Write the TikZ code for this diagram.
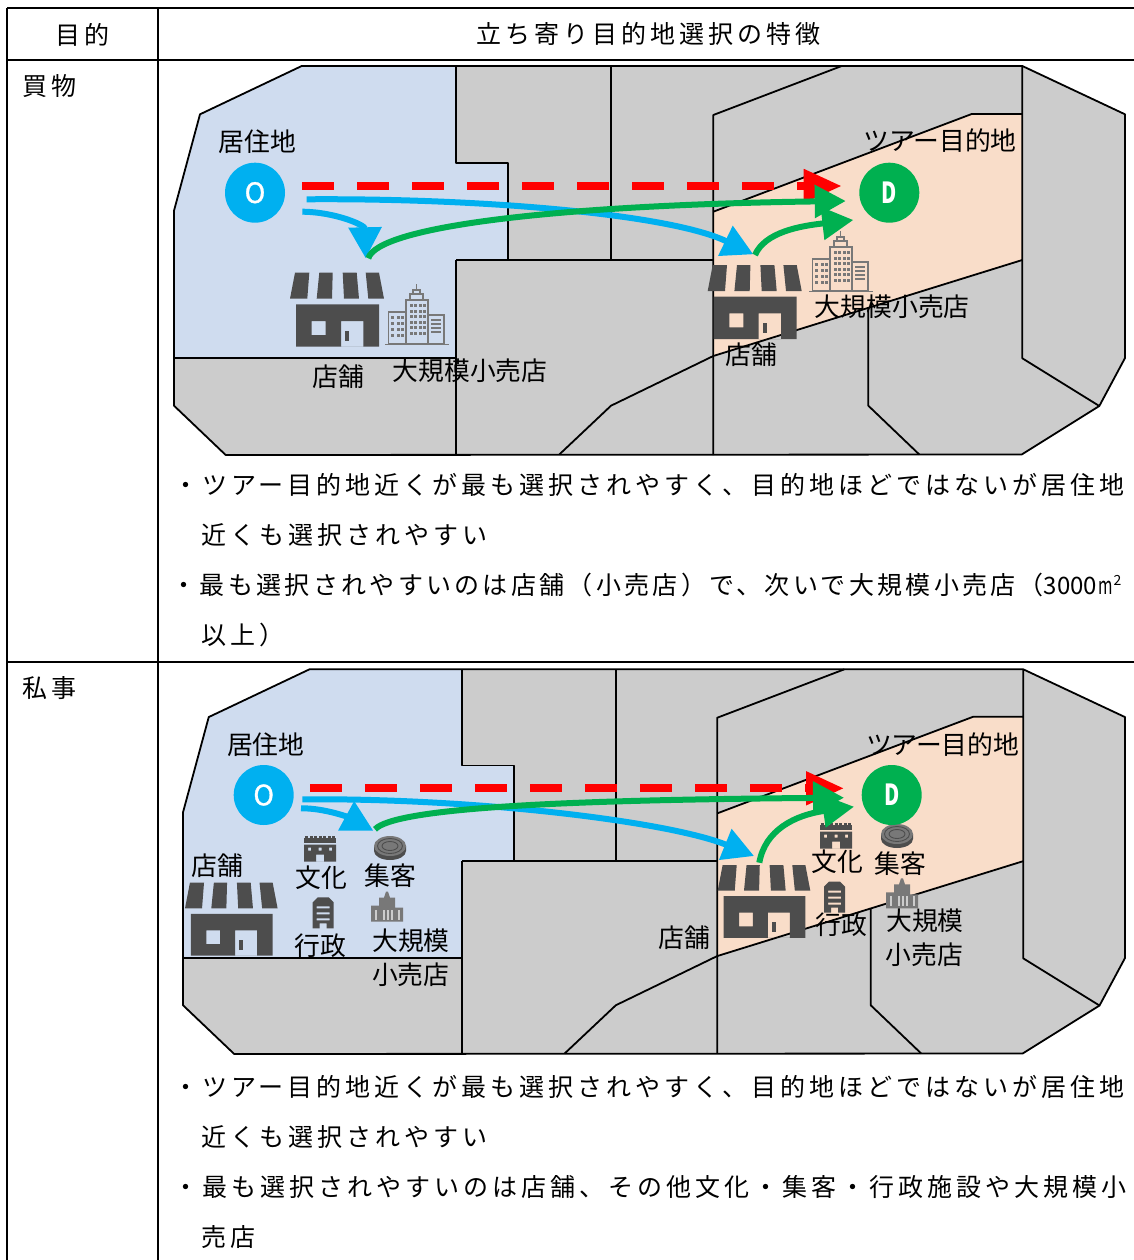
\documentclass[tikz,border=0pt]{standalone}
\usepackage{fontspec}
\setmainfont{Noto Sans CJK JP}
\newfontfamily\bodyfont[LetterSpace=16]{Noto Sans CJK JP}
\newfontfamily\tightfont[LetterSpace=13.2]{Noto Sans CJK JP}
\newfontfamily\markfont[FakeBold=1.2]{Noto Sans CJK JP}
\usetikzlibrary{arrows.meta}
\definecolor{homeblue}{RGB}{207,220,239}
\definecolor{destpeach}{RGB}{249,221,201}
\definecolor{zonegray}{RGB}{204,204,204}
\definecolor{tripblue}{RGB}{0,176,240}
\definecolor{tripgreen}{RGB}{0,176,80}
\definecolor{icondark}{RGB}{77,77,77}
\definecolor{iconmid}{RGB}{120,120,120}

\tikzset{
  shopicon/.pic={
    \fill[icondark] (5,0)--(19.3,0)--(17.3,26)--(0,26)--cycle;
    \fill[icondark] (29.3,0)--(42.7,0)--(42,26)--(26.7,26)--cycle;
    \fill[icondark] (52.7,0)--(66.7,0)--(69,26)--(54,26)--cycle;
    \fill[icondark] (75.7,0)--(89,0)--(94,26)--(78.3,26)--cycle;
    \fill[icondark,even odd rule] (6,31.7) rectangle (89,74)
      (21.7,48.3) rectangle (35.7,62.3) (51,48.3) rectangle (73.3,74);
    \fill[icondark] (55.3,58) rectangle (59.3,68);
  },
  buildingicon/.pic={
    \draw[iconmid,line width=1.6pt] (0,60.5)--(64,60.5);
    \draw[iconmid,line width=1.4pt] (3.3,60) rectangle (21,28) (21,60) rectangle (43,16)
      (43,60) rectangle (59,31) (25,16) rectangle (38,10) (28,10) rectangle (35,6)
      (31.5,6)--(31.5,0);
    \foreach \x in {6,11.5,16}
      \foreach \y in {32,38,44,50}
        \fill[iconmid] (\x,\y) rectangle ++(3.4,3.4);
    \foreach \x in {24.5,29,33.5,38}
      \foreach \y in {20,25.5,31,36.5,42,47.5}
        \fill[iconmid] (\x,\y) rectangle ++(3,3.2);
    \foreach \y in {36,40,44,48}
      \draw[iconmid,line width=1.2pt] (46,\y)--(56,\y);
  },
  towericon/.pic={
    \fill[iconmid] (0,30)--(0,14)--(8,14)--(8,6)--(13,6)--(15,0)--(17,0)--(19,6)--(24,6)--(24,16)--(32,16)--(32,30)--cycle;
    \foreach \x in {4,12,16,20,27}
      \fill[zonegray] (\x,18) rectangle ++(1.5,10);
  },
  cultureicon/.pic={
    \fill[icondark] (0,2) rectangle (32,7);
    \foreach \x in {1,5.5,10,14.5,19,23.5,28}
      \fill[icondark] (\x,0) rectangle ++(3,2.5);
    \fill[icondark,even odd rule] (0,9) rectangle (32,26) (12,19) rectangle (20,26)
      (4,12) rectangle (7,15) (14.5,12) rectangle (17.5,15) (25,12) rectangle (28,15);
  },
  stadiumicon/.pic={
    \fill[icondark] (0,10) -- (0,15) arc[start angle=180,end angle=0,x radius=16,y radius=9] -- (32,10) -- cycle;
    \fill[iconmid] (16,10) ellipse[x radius=16,y radius=10];
    \draw[icondark,line width=.9pt] (16,10) ellipse[x radius=12.5,y radius=7.5];
    \draw[icondark,line width=.9pt] (16,10) ellipse[x radius=8,y radius=4.5];
  },
  officeicon/.pic={
    \fill[icondark,even odd rule] (0,5)--(5,0)--(16,0)--(21,5)--(21,31)--(14,31)--(14,26)--(7,26)--(7,31)--(0,31)--cycle
      (4,9) rectangle (17,11) (4,15) rectangle (17,17) (4,21) rectangle (17,23);
  }
}

% one block map, in the coordinates of the upper row
\newcommand{\blockmap}{
  \fill[zonegray] (301.7,66)--(1022.3,66)--(1125,114.3)--(1125,358)--(1099.3,406)--(1021.7,454.5)--(225.7,455)--(174,405.7)--(174,210.7)--(200,114.3)--cycle;
  \fill[homeblue] (301.7,66)--(456,66)--(456,163.3)--(508.3,163.3)--(508.3,260)--(456,260)--(456,357.7)--(174,357.7)--(174,210.7)--(200,114.3)--cycle;
  \fill[destpeach] (713.3,211.7)--(971.7,114)--(1022.3,114)--(1022.3,260)--(713.3,356)--cycle;
  \draw[mapline] (301.7,66)--(1022.3,66)--(1125,114.3)--(1125,358)--(1099.3,406)--(1021.7,454.5)--(225.7,455)--(174,405.7)--(174,210.7)--(200,114.3)--cycle;
  \draw[mapline] (456,66)--(456,163.3)--(508.3,163.3)--(508.3,260);
  \draw[mapline] (174,357.7)--(456,357.7) (456,260)--(456,455);
  \draw[mapline] (611,66)--(611,260) (456,260)--(713.3,260);
  \draw[mapline] (841.7,66)--(713.3,115)--(713.3,455);
  \draw[mapline] (713.3,211.7)--(971.7,114)--(1022.3,114) (1022.3,66)--(1022.3,358.3)--(1099.3,406);
  \draw[mapline] (1022.3,260)--(713.3,356)--(611,405.7)--(559.3,454.5);
  \draw[mapline] (868.3,308)--(868.3,405.7)--(919.3,454.5);
}

\begin{document}
\begin{tikzpicture}[x=1pt,y=-1pt,
    mapline/.style={draw=black,line width=1.8pt,line join=round},
    gridline/.style={draw=black,line width=1.8pt},
    label/.style={inner sep=0pt,text height=22.7pt,text depth=3.1pt,font=\fontsize{25.8}{25.8}\selectfont},
    headline/.style={inner sep=0pt,text height=22pt,text depth=3pt,font=\bodyfont\fontsize{25}{25}\selectfont},
    bodyline/.style={headline,anchor=west},
    homestop/.style={circle,fill=tripblue,minimum size=60pt,inner sep=0pt,text=white},
    deststop/.style={circle,fill=tripgreen,minimum size=60pt,inner sep=0pt,text=white},
    direct/.style={draw=red,line width=8pt,dash pattern=on 31.7pt off 23.3pt,-{Triangle[length=38pt,width=32pt]}},
    bluetrip/.style={draw=tripblue,line width=6pt,-{Triangle[length=31pt,width=32pt]},tripblue},
    greentrip/.style={draw=tripgreen,line width=6pt,-{Triangle[length=31pt,width=32pt]},tripgreen}]
  \useasboundingbox (0,0) rectangle (1134,1260);

  % table
  \draw[gridline] (7,8)--(1134,8) (7,60)--(1134,60) (7,661.7)--(1134,661.7);
  \draw[gridline] (7,8)--(7,1260) (158,8)--(158,1260);
  \node[headline] (headA) at (82,35) {目的};
  \node[headline] (headB) at (648.5,34.5) {立ち寄り目的地選択の特徴};
  \node[bodyline] (shopping) at (22,86.5) {買物};
  \node[bodyline] (private) at (22,687.5) {私事};

  % upper map
  \blockmap
  \pic at (290,272.7) {shopicon};
  \pic at (385,284) {buildingicon};
  \pic at (707.7,265) {shopicon};
  \pic at (809,231) {buildingicon};
  \node[homestop] (O) at (255,192.7) {\markfont\fontsize{28}{28}\selectfont O};
  \node[deststop] (D) at (889.3,192.7) {\fontsize{29}{29}\selectfont\bfseries\scalebox{.72}[1]{D}};

  \coordinate (redA) at (302.3,186);       \coordinate (redB) at (841.7,186);
  \coordinate (blueA) at (306.7,199.3);    \coordinate (blueB) at (753.3,254.3);
  \coordinate (shortA) at (302.3,211.7);   \coordinate (shortB) at (365.7,258.3);
  \coordinate (greenA) at (368.3,258.3);   \coordinate (greenB) at (845.7,201);
  \coordinate (nextA) at (755,255);        \coordinate (nextB) at (853.3,220);
  \draw[direct] (redA) -- (redB);
  \draw[bluetrip] (blueA) .. controls (480,198) and (670,214) .. (blueB);
  \draw[bluetrip] (shortA) .. controls (335,212) and (365,225) .. (shortB);
  \draw[greentrip] (greenA) .. controls (378,226) and (560,205) .. (greenB);
  \draw[greentrip] (nextA) .. controls (765,232) and (800,226) .. (nextB);

  \node[label] (homeA) at (257.3,141.7) {居住地};
  \node[label] (shopA) at (338.3,376.7) {店舗};
  \node[label] (largeA) at (470,370.7) {大規模小売店};
  \node[label] (destA) at (940,141) {ツアー目的地};
  \node[label] (largeB) at (892.3,306.7) {大規模小売店};
  \node[label] (shopB) at (751,355) {店舗};

  \node[bodyline] (lineA) at (173,485) {・ツアー目的地近くが最も選択されやすく、目的地ほどではないが居住地};
  \node[bodyline] (lineB) at (201,535) {近くも選択されやすい};
  \node[bodyline,font=\tightfont\fontsize{25}{25}\selectfont] (lineC) at (171.5,585) {・最も選択されやすいのは店舗（小売店）で、次いで大規模小売店（{\normalfont\fontsize{24}{24}\selectfont 3000\kern1pt\scalebox{.65}[1]{m}\kern1pt\raisebox{9pt}{\fontsize{14}{14}\selectfont 2}}};
  \node[bodyline] (lineD) at (201,635) {以上）};

  % lower map
  \begin{scope}[x=.9905pt,y=-.9889pt,shift={(10.65pt,-604.03pt)}]
    \blockmap
  \end{scope}
  \pic[scale=.985] at (185,882.7) {shopicon};
  \pic[scale=.985] at (717.7,865) {shopicon};
  \pic at (304,835.7) {cultureicon};
  \pic at (374,836) {stadiumicon};
  \pic at (312.7,897.3) {officeicon};
  \pic at (371,891.7) {towericon};
  \pic at (820,822.7) {cultureicon};
  \pic at (881,824) {stadiumicon};
  \pic at (824,881.7) {officeicon};
  \pic at (886,878.3) {towericon};
  \node[homestop] (Olow) at (263.7,795) {\markfont\fontsize{28}{28}\selectfont O};
  \node[deststop] (Dlow) at (891.7,795) {\fontsize{29}{29}\selectfont\bfseries\scalebox{.72}[1]{D}};

  \coordinate (redC) at (310.3,788.3);     \coordinate (redD) at (844,788.3);
  \coordinate (blueC) at (302.3,799.3);    \coordinate (blueD) at (754,856);
  \coordinate (shortC) at (301,808.3);     \coordinate (shortD) at (373.3,830.7);
  \coordinate (greenC) at (375,829.3);     \coordinate (greenD) at (844,797.7);
  \coordinate (nextC) at (759.3,862.7);    \coordinate (nextD) at (854,806.7);
  \draw[direct] (redC) -- (redD);
  \draw[bluetrip] (blueC) .. controls (480,798) and (670,822) .. (blueD);
  \draw[bluetrip] (shortC) .. controls (325,808) and (350,818) .. (shortD);
  \draw[greentrip] (greenC) .. controls (395,808) and (560,800) .. (greenD);
  \draw[greentrip] (nextC) .. controls (765,830) and (795,815) .. (nextD);

  \node[label] (homeC) at (265.7,745) {居住地};
  \node[label] (shopC) at (217.3,866) {店舗};
  \node[label] (cultC) at (321.7,877.3) {文化};
  \node[label] (crowdC) at (390.7,875.7) {集客};
  \node[label] (adminC) at (320,945.7) {行政};
  \node[label] (largeC) at (411,941) {大規模};
  \node[label] (retailC) at (410.7,975) {小売店};
  \node[label] (destD) at (942.7,745) {ツアー目的地};
  \node[label] (cultD) at (837.7,861.7) {文化};
  \node[label] (crowdD) at (900,864) {集客};
  \node[label] (adminD) at (841.7,925) {行政};
  \node[label] (largeD) at (925,920.7) {大規模};
  \node[label] (retailD) at (924.3,955) {小売店};
  \node[label] (shopD) at (684.3,937.7) {店舗};

  \node[bodyline] (lineE) at (173,1087) {・ツアー目的地近くが最も選択されやすく、目的地ほどではないが居住地};
  \node[bodyline] (lineF) at (201,1137) {近くも選択されやすい};
  \node[bodyline] (lineG) at (173,1187) {・最も選択されやすいのは店舗、その他文化・集客・行政施設や大規模小};
  \node[bodyline] (lineH) at (201,1237) {売店};
\end{tikzpicture}
\end{document}
